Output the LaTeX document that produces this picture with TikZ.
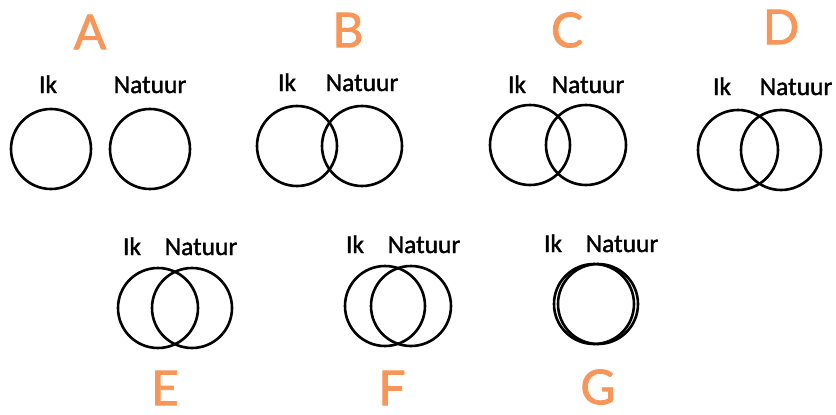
\documentclass[tikz,border=0pt]{standalone}
\usepackage{fontspec}
\setmainfont{Carlito}[FakeBold=1.4]
\newfontfamily\letterfont{Lato}[FakeBold=1.6]
\usepackage{tikz}
\definecolor{letterorange}{RGB}{247,150,88}

\begin{document}
\begin{tikzpicture}[x=1pt, y=-1pt,
		ring/.style={draw, circle, line width=2.6pt, minimum size=80pt, inner sep=0pt},
		setname/.style={anchor=base, inner sep=0pt, font=\fontsize{25.5}{30}\selectfont},
		panel/.style={inner sep=0pt, text=letterorange, font=\letterfont\fontsize{48}{56}\selectfont}]
		\useasboundingbox (0,0) rectangle (836,415);

		% A
		\node[panel] (A) at (90,32) {A};
		\node[setname] (ikA) at (48,93) {Ik};
		\node[setname] (natA) at (150,93) {Natuur};
		\node[ring] (cikA) at (51,149) {};
		\node[ring] (cnatA) at (150,149) {};

		% B
		\node[panel] (B) at (348,30) {B};
		\node[setname] (ikB) at (287,91) {Ik};
		\node[setname] (natB) at (362,91) {Natuur};
		\node[ring] (cikB) at (297,146) {};
		\node[ring] (cnatB) at (362,146) {};

		% C
		\node[panel] (C) at (567,30) {C};
		\node[setname] (ikC) at (517,93) {Ik};
		\node[setname] (natC) at (588,93) {Natuur};
		\node[ring] (cikC) at (530,145) {};
		\node[ring] (cnatC) at (586,145) {};

		% D
		\node[panel] (D) at (781,27) {D};
		\node[setname] (ikD) at (722,95) {Ik};
		\node[setname] (natD) at (796,95) {Natuur};
		\node[ring] (cikD) at (738,150) {};
		\node[ring] (cnatD) at (781,150) {};

		% E
		\node[setname] (ikE) at (132,255) {Ik};
		\node[setname] (natE) at (201,255) {Natuur};
		\node[ring] (cikE) at (158,308) {};
		\node[ring] (cnatE) at (192,308) {};
		\node[panel] (E) at (165,388) {E};

		% F
		\node[setname] (ikF) at (355,253) {Ik};
		\node[setname] (natF) at (424,253) {Natuur};
		\node[ring] (cikF) at (385,306) {};
		\node[ring] (cnatF) at (411,306) {};
		\node[panel] (F) at (392,388) {F};

		% G
		\node[setname] (ikG) at (553,252) {Ik};
		\node[setname] (natG) at (622,252) {Natuur};
		\node[ring] (cikG) at (594,304) {};
		\node[ring] (cnatG) at (598,304) {};
		\node[panel] (G) at (598,387) {G};
	\end{tikzpicture}
\end{document}
